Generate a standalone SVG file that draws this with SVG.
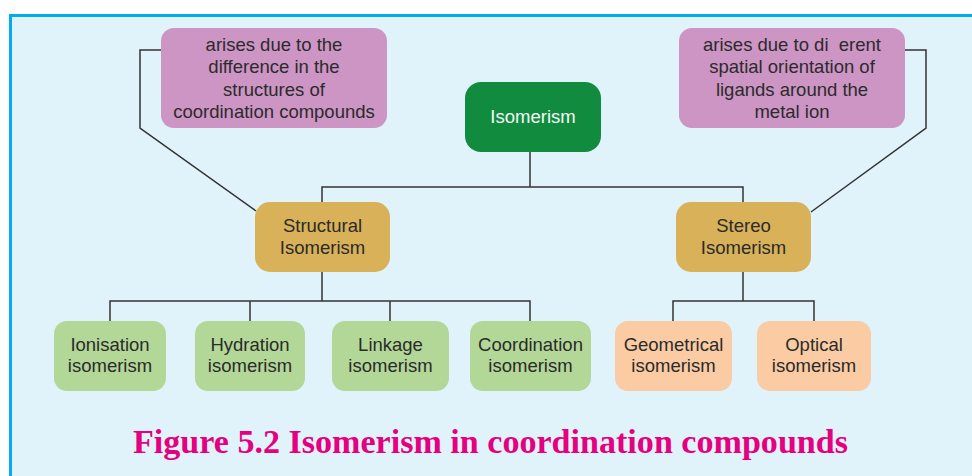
<svg xmlns="http://www.w3.org/2000/svg" width="972" height="476" viewBox="0 0 972 476">
<style>
.t{font-family:"Liberation Sans",Arial,sans-serif;font-size:18.5px;fill:#2b2b2b;text-anchor:middle}
.w{fill:#f4fbf6}
.ln{fill:none;stroke:#333;stroke-width:1.5}
.pur{fill:#cc95c4}
.gold{fill:#d8b158}
.lg{fill:#b2d797}
.pe{fill:#fbcba3}
.dg{fill:#118c3f}
</style>
<rect x="10.5" y="15.5" width="980" height="480" fill="#e0f2fa" stroke="#00aeef" stroke-width="3"/>
<g id="connectors">
<polyline class="ln" points="161,50 140,50 140,128 256,211"/>
<polyline class="ln" points="905,50 926,50 926,128 811,212"/>
<line class="ln" x1="530" y1="152" x2="530" y2="187"/>
<polyline class="ln" points="322,203 322,187 743,187 743,203"/>
<line class="ln" x1="322" y1="272" x2="322" y2="301"/>
<polyline class="ln" points="110,321 110,301 530,301 530,321"/>
<line class="ln" x1="250" y1="301" x2="250" y2="321"/>
<line class="ln" x1="390" y1="301" x2="390" y2="321"/>
<line class="ln" x1="743" y1="272" x2="743" y2="301"/>
<polyline class="ln" points="673,321 673,301 814,301 814,321"/>
</g>
<g id="note-structural">
<rect class="pur" x="161" y="28" width="226" height="100" rx="13"/>
<text class="t" x="274" y="50.5">arises due to the</text>
<text class="t" x="274" y="73">difference in the</text>
<text class="t" x="274" y="95.5">structures of</text>
<text class="t" x="274" y="118">coordination compounds</text>
</g>
<g id="note-stereo">
<rect class="pur" x="679" y="28" width="226" height="100" rx="13"/>
<text class="t" x="792" y="50.5" xml:space="preserve">arises due to di  erent</text>
<text class="t" x="792" y="73">spatial orientation of</text>
<text class="t" x="792" y="95.5">ligands around the</text>
<text class="t" x="792" y="118">metal ion</text>
</g>
<g id="isomerism">
<rect class="dg" x="465" y="82" width="136" height="70" rx="16"/>
<text class="t w" x="533" y="122.5">Isomerism</text>
</g>
<g id="structural">
<rect class="gold" x="255" y="202" width="135" height="70" rx="15"/>
<text class="t" x="322.5" y="231.5">Structural</text>
<text class="t" x="322.5" y="253.5">Isomerism</text>
</g>
<g id="stereo">
<rect class="gold" x="676" y="202" width="135" height="70" rx="15"/>
<text class="t" x="743.5" y="231.5">Stereo</text>
<text class="t" x="743.5" y="253.5">Isomerism</text>
</g>
<g id="ionisation">
<rect class="lg" x="54" y="321" width="112" height="70" rx="13"/>
<text class="t" x="110" y="350.5">Ionisation</text>
<text class="t" x="110" y="371.5">isomerism</text>
</g>
<g id="hydration">
<rect class="lg" x="195" y="321" width="110" height="70" rx="13"/>
<text class="t" x="250" y="350.5">Hydration</text>
<text class="t" x="250" y="371.5">isomerism</text>
</g>
<g id="linkage">
<rect class="lg" x="332" y="321" width="117" height="70" rx="13"/>
<text class="t" x="390.5" y="350.5">Linkage</text>
<text class="t" x="390.5" y="371.5">isomerism</text>
</g>
<g id="coordination">
<rect class="lg" x="470" y="321" width="121" height="70" rx="13"/>
<text class="t" x="530.5" y="350.5">Coordination</text>
<text class="t" x="530.5" y="371.5">isomerism</text>
</g>
<g id="geometrical">
<rect class="pe" x="615" y="321" width="117" height="70" rx="13"/>
<text class="t" x="673.5" y="350.5">Geometrical</text>
<text class="t" x="673.5" y="371.5">isomerism</text>
</g>
<g id="optical">
<rect class="pe" x="757" y="321" width="114" height="70" rx="13"/>
<text class="t" x="814" y="350.5">Optical</text>
<text class="t" x="814" y="371.5">isomerism</text>
</g>
<text x="133" y="453" font-family="'Liberation Serif','Times New Roman',serif" font-weight="bold" font-size="33" fill="#e4007f" textLength="715" lengthAdjust="spacingAndGlyphs">Figure 5.2 Isomerism in coordination compounds</text>
</svg>
